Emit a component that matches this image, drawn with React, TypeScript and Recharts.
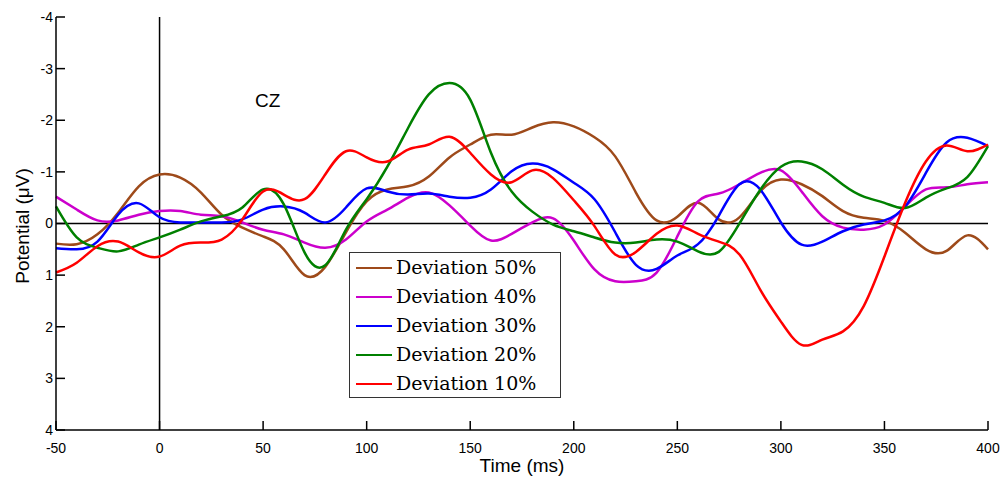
import { LineChart, Line, XAxis, YAxis, ReferenceLine, Legend } from 'recharts';

// time points (ms)
const times = [
  -50, -40, -30, -20, -10, 0, 10, 20, 30, 40, 50, 60, 70, 80, 90, 100, 110, 120, 130, 140, 150, 160, 170,
  180, 190, 200, 210, 220, 230, 240, 250, 260, 270, 280, 290, 300, 310, 320, 330, 340, 350, 360, 370, 380,
  390, 400,
];

// potentials (µV)
const dev50 = [
  0.39, 0.4, 0.21, -0.21, -0.72, -0.95, -0.89, -0.6, -0.17, 0.08, 0.25, 0.5, 1.0, 0.84, 0.17, -0.43, -0.66,
  -0.72, -0.91, -1.28, -1.53, -1.72, -1.72, -1.86, -1.96, -1.88, -1.67, -1.3, -0.6, -0.06, -0.13, -0.4,
  -0.08, -0.12, -0.62, -0.85, -0.76, -0.53, -0.24, -0.11, -0.05, 0.18, 0.5, 0.53, 0.23, 0.5,
];
const dev40 = [
  -0.52, -0.27, -0.06, -0.06, -0.17, -0.24, -0.24, -0.17, -0.14, -0.02, 0.12, 0.21, 0.37, 0.47, 0.31,
  -0.04, -0.27, -0.5, -0.6, -0.35, 0.04, 0.33, 0.2, -0.02, -0.1, 0.33, 0.89, 1.12, 1.12, 0.95, 0.25, -0.43,
  -0.58, -0.76, -0.98, -1.03, -0.62, -0.14, 0.08, 0.12, 0.02, -0.33, -0.66, -0.7, -0.76, -0.8,
];
const dev30 = [
  0.48, 0.5, 0.35, -0.17, -0.39, -0.12, -0.02, -0.02, -0.02, -0.08, -0.27, -0.33, -0.21, -0.02, -0.31,
  -0.68, -0.62, -0.56, -0.58, -0.52, -0.5, -0.66, -1.01, -1.16, -1.05, -0.79, -0.47, 0.17, 0.8, 0.88, 0.62,
  0.4, -0.15, -0.76, -0.66, -0.02, 0.41, 0.35, 0.15, 0.02, -0.06, -0.33, -0.98, -1.57, -1.66, -1.5,
];
const dev20 = [
  -0.33, 0.27, 0.47, 0.54, 0.41, 0.27, 0.12, -0.04, -0.14, -0.31, -0.66, -0.37, 0.56, 0.81, 0.12, -0.47,
  -1.1, -1.85, -2.5, -2.72, -2.4, -1.37, -0.62, -0.23, 0.02, 0.15, 0.27, 0.37, 0.37, 0.31, 0.35, 0.54,
  0.55, 0.0, -0.65, -1.1, -1.2, -1.05, -0.75, -0.52, -0.4, -0.3, -0.5, -0.68, -0.9, -1.5,
];
const dev10 = [
  0.95, 0.76, 0.44, 0.35, 0.56, 0.64, 0.43, 0.37, 0.31, -0.08, -0.62, -0.56, -0.47, -0.95, -1.4, -1.28,
  -1.2, -1.43, -1.53, -1.68, -1.37, -0.95, -0.8, -1.03, -0.88, -0.45, 0.05, 0.6, 0.55, 0.2, 0.04, 0.2, 0.35,
  0.6, 1.28, 1.9, 2.35, 2.25, 2.09, 1.6, 0.64, -0.4, -1.2, -1.51, -1.4, -1.53,
];

const xTicks = [-50, 0, 50, 100, 150, 200, 250, 300, 350, 400];
const yTicks = [-4, -3, -2, -1, 0, 1, 2, 3, 4];

const series = [
  { key: 'dev50', name: 'Deviation 50%', color: '#9E4A1A' },
  { key: 'dev40', name: 'Deviation 40%', color: '#CC00CC' },
  { key: 'dev30', name: 'Deviation 30%', color: '#0000FF' },
  { key: 'dev20', name: 'Deviation 20%', color: '#008000' },
  { key: 'dev10', name: 'Deviation 10%', color: '#FF0000' },
];

const data = times.map((t, i) => ({
  t,
  dev50: dev50[i],
  dev40: dev40[i],
  dev30: dev30[i],
  dev20: dev20[i],
  dev10: dev10[i],
}));

const sans = '"Liberation Sans", Arial, sans-serif';

const renderLegend = () => (
  <div
    style={{
      width: 212,
      height: 146,
      boxSizing: 'border-box',
      border: '1px solid #333',
      background: '#fff',
      paddingLeft: 6,
    }}
  >
    {series.map((s) => (
      <div key={s.key} style={{ display: 'flex', alignItems: 'center', height: 29 }}>
        <span style={{ display: 'inline-block', width: 36, borderTop: `2px solid ${s.color}`, marginRight: 4 }} />
        <span
          style={{
            fontFamily: '"DejaVu Serif", serif',
            fontSize: 19,
            lineHeight: '29px',
            color: '#000',
          }}
        >
          {s.name}
        </span>
      </div>
    ))}
  </div>
);

export default function App() {
  return (
    <div style={{ position: 'absolute', left: 0, top: 0, width: 1000, height: 477, background: '#fff' }}>
      <LineChart width={1000} height={477} data={data} margin={{ top: 17, right: 12, left: 10, bottom: 17 }}>
        <XAxis
          dataKey="t"
          type="number"
          domain={[-50, 400]}
          ticks={xTicks}
          interval={0}
          height={30}
          tickSize={-9}
          tickMargin={22}
          axisLine={{ stroke: '#000', strokeWidth: 1.5 }}
          tickLine={{ stroke: '#000', strokeWidth: 1.5 }}
          tick={{ fill: '#000', fontSize: 14, fontFamily: sans }}
        />
        <YAxis
          type="number"
          domain={[-4, 4]}
          reversed
          ticks={yTicks}
          interval={0}
          width={46}
          tickSize={-9}
          tickMargin={12}
          axisLine={{ stroke: '#000', strokeWidth: 1.5 }}
          tickLine={{ stroke: '#000', strokeWidth: 1.5 }}
          tick={{ fill: '#000', fontSize: 14, fontFamily: sans }}
        />
        <ReferenceLine y={0} stroke="#000" strokeWidth={1.5} />
        <ReferenceLine x={0} stroke="#000" strokeWidth={1.5} />
        {series.map((s) => (
          <Line
            key={s.key}
            type="natural"
            dataKey={s.key}
            name={s.name}
            stroke={s.color}
            strokeWidth={2.5}
            dot={false}
            activeDot={false}
            isAnimationActive={false}
          />
        ))}
        <Legend
          layout="vertical"
          align="center"
          verticalAlign="middle"
          content={renderLegend}
          wrapperStyle={{ left: 349, top: 252, width: 212, height: 146 }}
        />
      </LineChart>
      <svg
        width={1000}
        height={477}
        style={{ position: 'absolute', left: 0, top: 0, pointerEvents: 'none' }}
      >
        <text x={255} y={107} fontSize={19} fontFamily={sans} fill="#000">
          CZ
        </text>
        <text x={522} y={472} fontSize={19} fontFamily={sans} fill="#000" textAnchor="middle">
          Time (ms)
        </text>
        <text
          x={29}
          y={226}
          fontSize={19}
          fontFamily={sans}
          fill="#000"
          textAnchor="middle"
          transform="rotate(-90 29 226)"
        >
          Potential (μV)
        </text>
      </svg>
    </div>
  );
}
